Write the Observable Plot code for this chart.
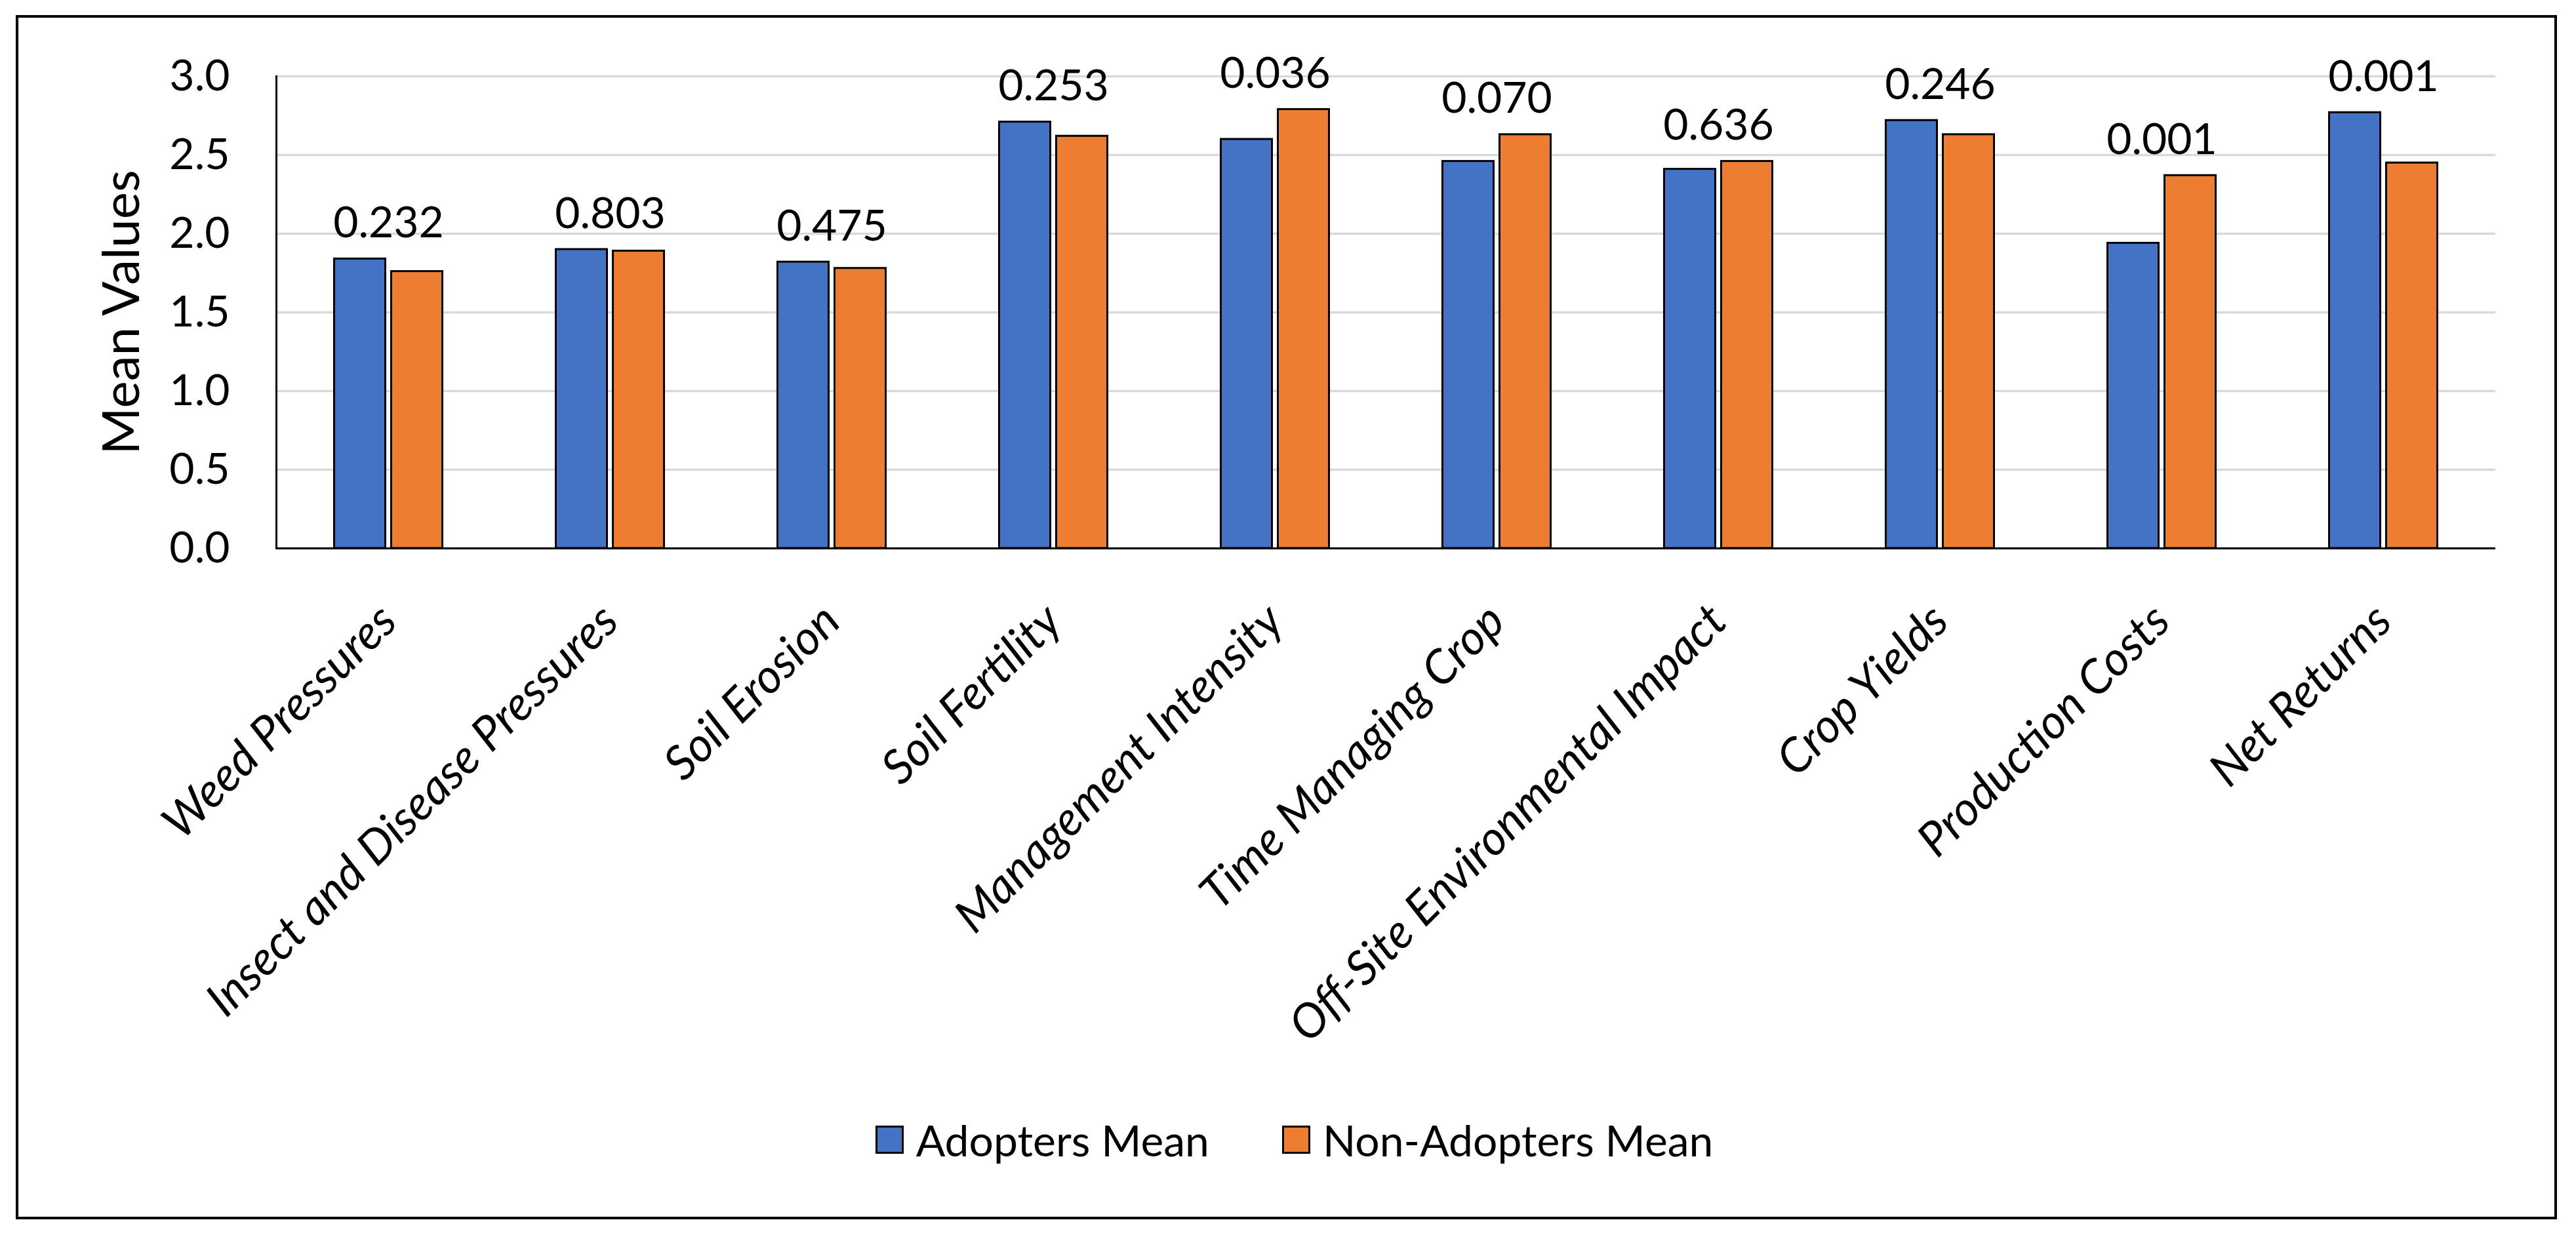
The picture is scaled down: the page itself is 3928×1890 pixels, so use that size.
<!DOCTYPE html>
<html>
<head>
<meta charset="utf-8">
<script src="https://cdn.jsdelivr.net/npm/d3@7"></script>
<script src="https://cdn.jsdelivr.net/npm/@observablehq/plot@0.6"></script>
<style>
  html, body { margin: 0; padding: 0; background: #fff; }
  #root { position: relative; width: 3928px; height: 1890px; font-family: Lato, sans-serif; color: #000; overflow: hidden; }
  #chart { position: absolute; left: 0; top: 0; }
  #border { position: absolute; left: 24px; top: 23px; width: 3875px; height: 1837px; border: 4.5px solid #000; box-sizing: border-box; pointer-events: none; }
  #legend { position: absolute; left: 0; top: 1700px; width: 3947px; height: 76px; display: flex; justify-content: center; align-items: center; gap: 111px; font-size: 66px; font-family: Lato, sans-serif; }
  .item { display: flex; align-items: center; }
  .sw { width: 43px; height: 43px; border: 3px solid #000; box-sizing: border-box; margin-right: 19px; }
</style>
</head>
<body>
<div id="root">
  <div id="chart"></div>
  <div id="legend"></div>
  <div id="border"></div>
</div>
<script>
const categories = [
  "Weed Pressures",
  "Insect and Disease Pressures",
  "Soil Erosion",
  "Soil Fertility",
  "Management Intensity",
  "Time Managing Crop",
  "Off-Site Environmental Impact",
  "Crop Yields",
  "Production Costs",
  "Net Returns"
];
const adoptersMean    = [1.84, 1.90, 1.82, 2.71, 2.60, 2.46, 2.41, 2.72, 1.94, 2.77];
const nonAdoptersMean = [1.76, 1.89, 1.78, 2.62, 2.79, 2.63, 2.46, 2.63, 2.37, 2.45];
const pValues = ["0.232", "0.803", "0.475", "0.253", "0.036", "0.070", "0.636", "0.246", "0.001", "0.001"];
const seriesNames = ["Adopters Mean", "Non-Adopters Mean"];
const seriesColors = ["#4472C4", "#ED7D31"];
const yTicks = [0, 0.5, 1.0, 1.5, 2.0, 2.5, 3.0];
const yTitle = "Mean Values";

const rows = categories.map((c, i) => ({
  category: c,
  adopters: adoptersMean[i],
  non: nonAdoptersMean[i],
  p: pValues[i],
  top: Math.max(adoptersMean[i], nonAdoptersMean[i])
}));

const font = "Lato, sans-serif";

const chart = Plot.plot({
  width: 3928,
  height: 1650,
  marginLeft: 421,
  marginRight: 123,
  marginTop: 116,
  marginBottom: 814,
  style: { fontFamily: font, background: "transparent", color: "#000", overflow: "visible" },
  x: { domain: categories, paddingInner: 0.7695, paddingOuter: 0.38475, axis: null },
  y: { domain: [0, 3], axis: null },
  color: { domain: seriesNames, range: seriesColors },
  marks: [
    Plot.gridY(yTicks, { stroke: "#D9D9D9", strokeWidth: 3.5, strokeOpacity: 1 }),
    Plot.barY(rows, { x: "category", y: "adopters", fill: () => seriesNames[0], stroke: "#000", strokeWidth: 3, dx: -43.5 }),
    Plot.barY(rows, { x: "category", y: "non", fill: () => seriesNames[1], stroke: "#000", strokeWidth: 3, dx: 43.5 }),
    Plot.ruleY([0], { stroke: "#000", strokeWidth: 3 }),
    Plot.frame({ anchor: "left", stroke: "#000", strokeWidth: 3 }),
    Plot.axisY(yTicks, { tickFormat: d3.format(".1f"), tickSize: 0, tickPadding: 71, fontSize: 66, label: null }),
    Plot.text(categories, {
      x: d => d, frameAnchor: "bottom", rotate: -45, textAnchor: "end", lineAnchor: "middle",
      dy: 99, fontSize: 72, fontStyle: "italic", fill: "#000"
    }),
    Plot.text(rows, { x: "category", y: "top", text: "p", dy: -33, lineAnchor: "bottom", fontSize: 66, fill: "#000" }),
    Plot.text([yTitle], { frameAnchor: "left", dx: -210, rotate: -90, lineAnchor: "bottom", textAnchor: "middle", fontSize: 78, fill: "#000" })
  ]
});
document.getElementById("chart").appendChild(chart);

const legend = document.getElementById("legend");
seriesNames.forEach((name, i) => {
  const item = document.createElement("div");
  item.className = "item";
  const sw = document.createElement("div");
  sw.className = "sw";
  sw.style.background = seriesColors[i];
  const label = document.createElement("span");
  label.textContent = name;
  item.appendChild(sw);
  item.appendChild(label);
  legend.appendChild(item);
});
</script>
</body>
</html>
